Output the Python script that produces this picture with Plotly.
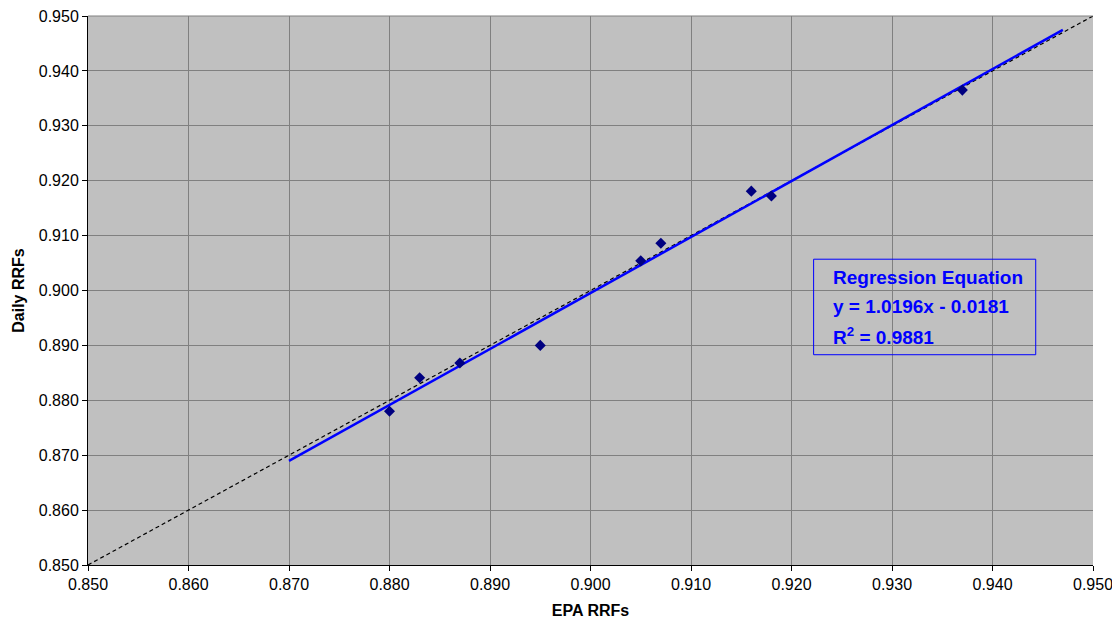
import plotly.graph_objects as go

epa_rrf = [0.880, 0.883, 0.887, 0.895, 0.905, 0.907, 0.916, 0.918, 0.937]
daily_rrf = [0.8780, 0.8841, 0.8868, 0.8900, 0.9054, 0.9086, 0.9181, 0.9172, 0.9365]
slope = 1.0196
intercept = -0.0181
fit_x = [0.870, 0.947]
one_to_one = [0.850, 0.950]
ticks = [0.850, 0.860, 0.870, 0.880, 0.890, 0.900, 0.910, 0.920, 0.930, 0.940, 0.950]
box_lines = ["<b>Regression Equation</b>", "<b>y = 1.0196x - 0.0181</b>", "<b>R<sup>2</sup> = 0.9881</b>"]

FONT = "Liberation Sans, Arial"

fig = go.Figure()
fig.add_trace(go.Scatter(x=one_to_one, y=one_to_one, mode="lines",
                         line=dict(color="black", width=1.2, dash="4px,3px"),
                         showlegend=False, hoverinfo="skip"))
fig.add_trace(go.Scatter(x=fit_x, y=[slope * v + intercept for v in fit_x], mode="lines",
                         line=dict(color="#0000FF", width=2.5), showlegend=False))
fig.add_trace(go.Scatter(x=epa_rrf, y=daily_rrf, mode="markers",
                         marker=dict(symbol="diamond", color="#000080", size=8.5),
                         showlegend=False))

fig.add_shape(type="rect", xref="x", yref="y", x0=0.9222, x1=0.9443, y0=0.8883, y1=0.9057,
              line=dict(color="#0000FF", width=1), fillcolor="rgba(0,0,0,0)")
fig.add_shape(type="line", xref="paper", yref="paper", x0=0, x1=1, y0=1, y1=1,
              line=dict(color="#808080", width=1))
line_y = [0.90228, 0.8970, 0.89171]
for txt, yy in zip(box_lines, line_y):
    fig.add_annotation(xref="x", yref="y", x=0.9239, y=yy, xanchor="left", yanchor="middle",
                       align="left", showarrow=False, text=txt,
                       font=dict(family=FONT, size=19, color="#0000FF"))

axis_common = dict(showgrid=True, gridcolor="#808080", gridwidth=1,
                   showline=True, linecolor="black", linewidth=1,
                   ticks="outside", ticklen=5, tickcolor="black",
                   tickvals=ticks, tickformat=".3f", zeroline=False, automargin=False,
                   ticklabeloverflow="allow",
                   tickfont=dict(family=FONT, size=16, color="black"))

fig.update_xaxes(range=[0.850, 0.950],
                 title=dict(text="<b>EPA RRFs</b>", font=dict(family=FONT, size=16, color="black"), standoff=12),
                 **axis_common)
fig.update_yaxes(range=[0.850, 0.950],
                 title=dict(text="<b>Daily RRFs</b>", font=dict(family=FONT, size=16, color="black"), standoff=10),
                 **axis_common)

fig.update_layout(width=1112, height=618, plot_bgcolor="#C0C0C0", paper_bgcolor="white",
                  margin=dict(l=80, r=27, t=8, b=61))

fig.write_html("out.html")
